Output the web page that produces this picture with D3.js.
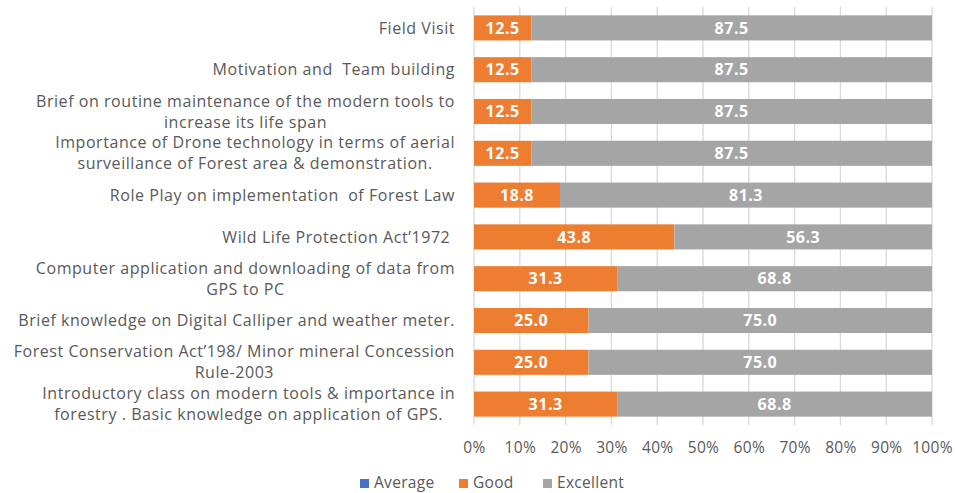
<!DOCTYPE html>
<html>
<head>
<meta charset="utf-8">
<style>
  body { margin: 0; background: #fff; }
  svg text { font-family: "Open Sans", sans-serif; }
  .cat { fill: #595959; font-size: 16px; letter-spacing: 0.55px; white-space: pre; }
  .tick text { fill: #595959; font-size: 15.5px; letter-spacing: 0.3px; }
  .lbl { fill: #fff; font-size: 16px; font-weight: bold; letter-spacing: 0.5px; }
  .legend text { fill: #595959; font-size: 15.5px; letter-spacing: 0.3px; }
</style>
</head>
<body>
<div id="chart"></div>
<script src="https://d3js.org/d3.v7.min.js"></script>
<script>
// categories, top to bottom; wrapped lines as in the original
var categories = [
  ["Field Visit"],
  ["Motivation and  Team building"],
  ["Brief on routine maintenance of the modern tools to", "increase its life span"],
  ["Importance of Drone technology in terms of aerial", "surveillance of Forest area & demonstration."],
  ["Role Play on implementation  of Forest Law"],
  ["Wild Life Protection Act\u20191972 "],
  ["Computer application and downloading of data from", "GPS to PC"],
  ["Brief knowledge on Digital Calliper and weather meter."],
  ["Forest Conservation Act\u2019198/ Minor mineral Concession", "Rule-2003"],
  ["Introductory class on modern tools & importance in", "forestry . Basic knowledge on application of GPS."]
];
var average = [0, 0, 0, 0, 0, 0, 0, 0, 0, 0];
var good = [12.5, 12.5, 12.5, 12.5, 18.8, 43.8, 31.3, 25.0, 25.0, 31.3];
var excellent = [87.5, 87.5, 87.5, 87.5, 81.3, 56.3, 68.8, 75.0, 75.0, 68.8];
var seriesNames = ["Average", "Good", "Excellent"];
var tickValues = [0, 0.1, 0.2, 0.3, 0.4, 0.5, 0.6, 0.7, 0.8, 0.9, 1];

var colors = { Average: "#4472C4", Good: "#ED7D31", Excellent: "#A5A5A5" };

var width = 957, height = 493;
var svg = d3.select("#chart").append("svg")
  .attr("width", width)
  .attr("height", height);

var x = d3.scaleLinear().domain([0, 1]).range([474, 932]);
var y = d3.scaleBand().domain(d3.range(categories.length)).range([7, 425]).paddingInner(0.4).paddingOuter(0.2);

// rows normalised to 100%
var rows = categories.map(function(c, i) {
  var t = average[i] + good[i] + excellent[i];
  return { i: i, Average: average[i] / t, Good: good[i] / t, Excellent: excellent[i] / t,
           raw: { Average: average[i], Good: good[i], Excellent: excellent[i] } };
});
var stacked = d3.stack().keys(seriesNames)(rows);

// gridlines
svg.append("g")
  .selectAll("line")
  .data(tickValues)
  .enter().append("line")
  .attr("x1", function(d) { return x(d); })
  .attr("x2", function(d) { return x(d); })
  .attr("y1", 7)
  .attr("y2", 425)
  .attr("stroke", "#d9d9d9")
  .attr("stroke-width", 1.3);

// axis labels
var xAxis = svg.append("g")
  .attr("transform", "translate(0,425)")
  .call(d3.axisBottom(x).tickValues(tickValues).tickFormat(d3.format(".0%")).tickSize(0).tickPadding(17));
xAxis.select(".domain").remove();

// bars
var layer = svg.selectAll(".layer")
  .data(stacked)
  .enter().append("g")
  .attr("class", "layer")
  .attr("fill", function(d) { return colors[d.key]; });

layer.selectAll("rect")
  .data(function(d) { return d; })
  .enter().append("rect")
  .attr("x", function(d) { return x(d[0]); })
  .attr("width", function(d) { return x(d[1]) - x(d[0]); })
  .attr("y", function(d) { return y(d.data.i); })
  .attr("height", y.bandwidth());

// data labels
layer.each(function(s) {
  d3.select(this).selectAll("text")
    .data(s.filter(function(d) { return d.data.raw[s.key] > 0; }))
    .enter().append("text")
    .attr("class", "lbl")
    .attr("x", function(d) { return (x(d[0]) + x(d[1])) / 2; })
    .attr("y", function(d) { return y(d.data.i) + y.bandwidth() / 2; })
    .attr("dy", "0.35em")
    .attr("text-anchor", "middle")
    .text(function(d) { return d.data.raw[s.key].toFixed(1); });
});

// category labels: block right aligned, lines centred within block
var right = 455, lineH = 21;
categories.forEach(function(lines, i) {
  var g = svg.append("g");
  var cy = y(i) + y.bandwidth() / 2;
  var texts = lines.map(function(l, k) {
    return g.append("text")
      .attr("class", "cat")
      .attr("y", cy + (k - (lines.length - 1) / 2) * lineH)
      .attr("dy", "0.35em")
      .attr("text-anchor", "middle")
      .text(l);
  });
  var maxW = d3.max(texts, function(t) { return t.node().getComputedTextLength(); });
  texts.forEach(function(t) { t.attr("x", right - maxW / 2); });
});

// legend
var legendX = [360, 459, 543];
var legend = svg.append("g").attr("class", "legend");
seriesNames.forEach(function(n, i) {
  legend.append("rect")
    .attr("x", legendX[i])
    .attr("y", 479)
    .attr("width", 9)
    .attr("height", 9)
    .attr("fill", colors[n]);
  legend.append("text")
    .attr("x", legendX[i] + 14)
    .attr("y", 483)
    .attr("dy", "0.35em")
    .text(n);
});
</script>
</body>
</html>
